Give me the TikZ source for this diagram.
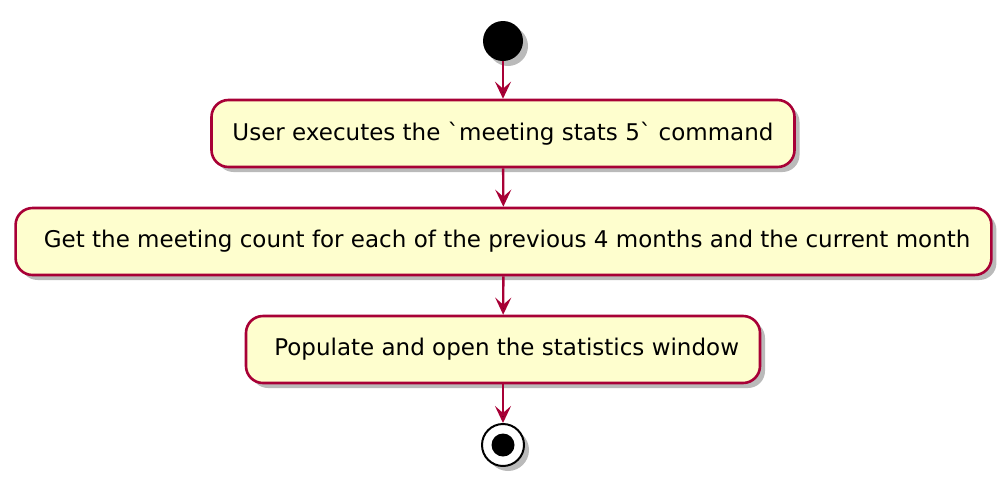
\documentclass[tikz,border=0pt]{standalone}
\usepackage{fontspec}
\setmainfont{DejaVu Sans}
\newfontfamily\tickfont{DejaVu Sans}
\usetikzlibrary{arrows.meta,shadows}
\definecolor{umlred}{HTML}{A80036}
\definecolor{umlfill}{HTML}{FEFECE}
\newcommand{\btick}{{\tickfont\symbol{"60}}}
\begin{document}
\begin{tikzpicture}[x=1pt,y=-1pt,
    action/.style={draw=umlred,fill=umlfill,line width=2.6pt,rounded corners=17pt,
        minimum height=67pt,inner xsep=21pt,font=\fontsize{23}{27}\selectfont,
        drop shadow={shadow xshift=5pt,shadow yshift=-5pt,fill=black!45,opacity=.6}},
    startdot/.style={circle,fill=black,minimum size=40pt,inner sep=0pt,
        drop shadow={shadow xshift=5pt,shadow yshift=-5pt,fill=black!45,opacity=.6}},
    enddot/.style={circle,draw=black,line width=2pt,fill=white,minimum size=42pt,inner sep=0pt,
        drop shadow={shadow xshift=5pt,shadow yshift=-5pt,fill=black!45,opacity=.6}},
    flow/.style={draw=umlred,line width=2.4pt,-{Stealth[length=17pt,width=16pt,inset=7pt]}}]
    \useasboundingbox (0,0) rectangle (1006,488);
    \node[startdot] (start) at (503,41) {};
    \node[action] (exec) at (503,133.5) {User executes the \btick meeting stats 5\btick{} command};
    \node[action] (count) at (503.5,241.5) {\ Get the meeting count for each of the previous 4 months and the current month};
    \node[action] (open) at (503,349.5) {\ Populate and open the statistics window};
    \node[enddot] (stop) at (503,445) {};
    \fill (stop.center) circle (11.5pt);

    \path[flow] (start) edge (exec);
    \path[flow] (exec) edge (count);
    \path[flow] (count) edge (open);
    \path[flow] (open) edge (stop);
\end{tikzpicture}
\end{document}
